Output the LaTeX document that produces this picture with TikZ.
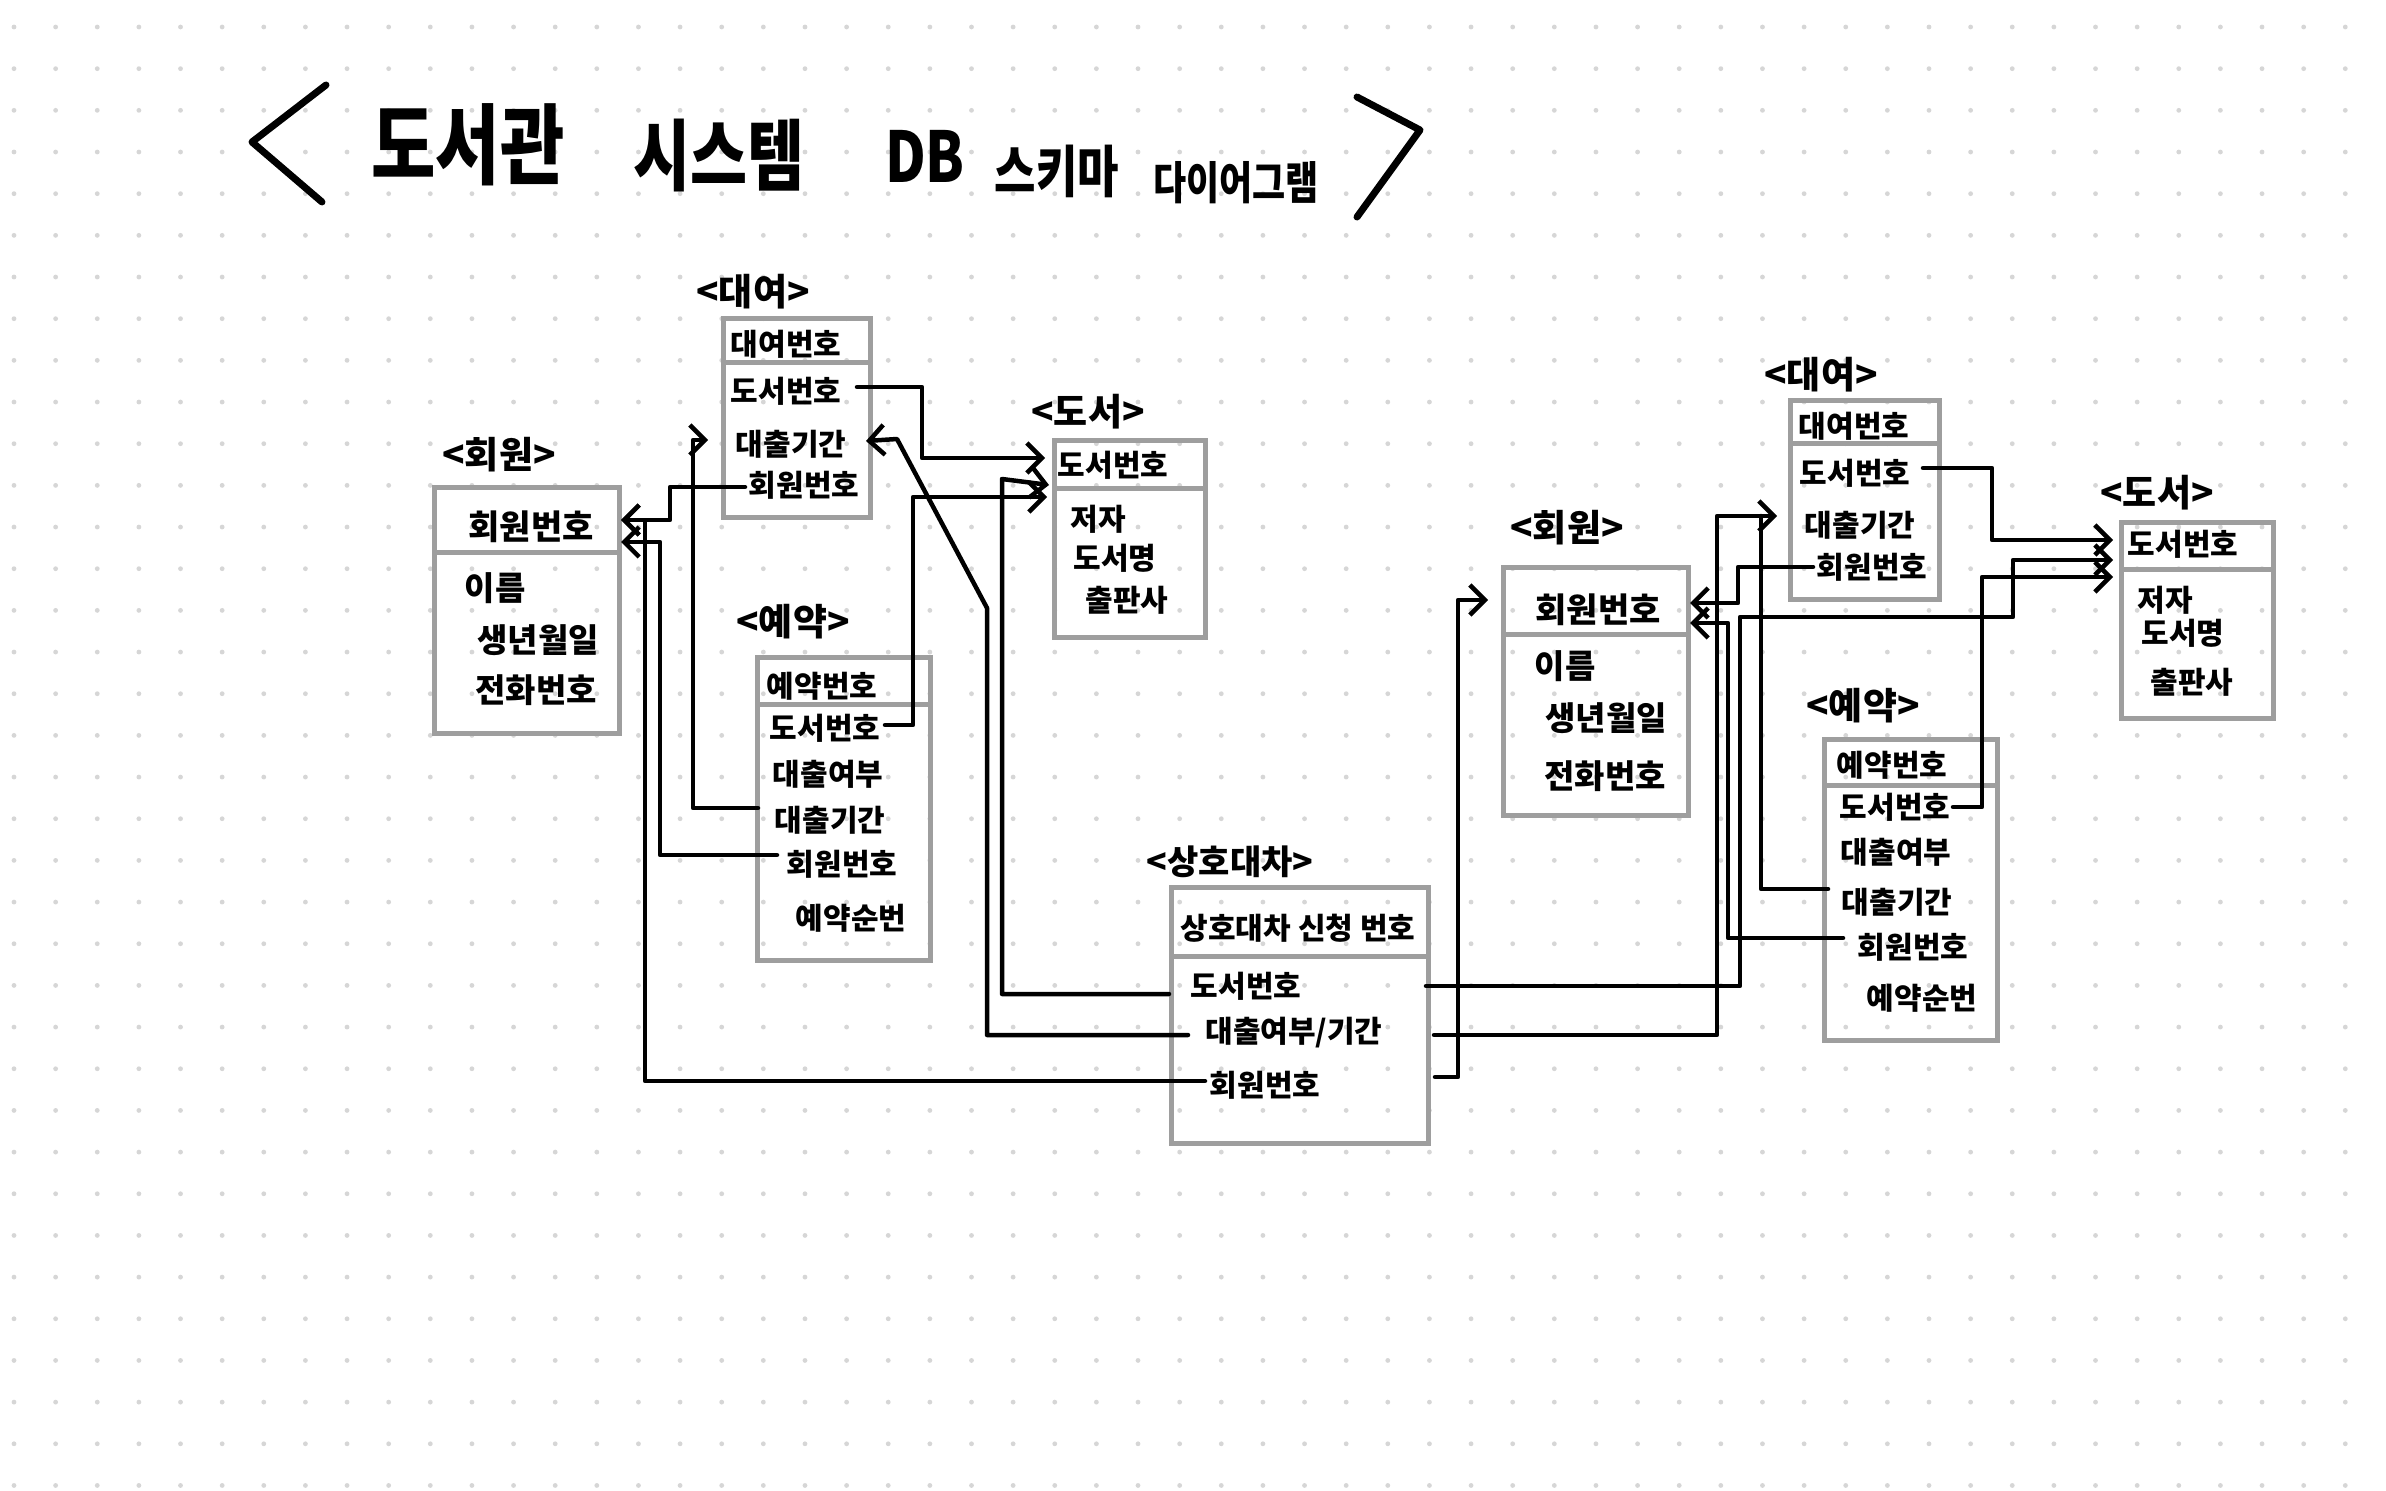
\documentclass[tikz,border=0pt]{standalone}
\usepackage{fontspec}
\setmainfont{Noto Sans CJK KR}
\usetikzlibrary{arrows.meta}
\definecolor{boxgray}{HTML}{9E9E9E}
\definecolor{dotgray}{HTML}{D6D6D6}
\tikzset{
  tbl/.style={draw=boxgray, line width=5pt, rectangle, inner sep=0pt, anchor=north west},
  sepline/.style={draw=boxgray, line width=5pt},
  fld/.style={font=\fontsize{30}{32}\selectfont\bfseries, inner sep=0pt},
  fldL/.style={font=\fontsize{33}{36}\selectfont\bfseries, inner sep=0pt},
  ttl/.style={font=\fontsize{37}{40}\selectfont\bfseries, inner sep=0pt},
  bigt/.style={inner sep=0pt, yscale=1.25, transform shape},
  conn/.style={draw=black, line width=4.5pt, line join=round, line cap=round},
  arr/.style={conn, -{Straight Barb[length=15pt,width=30pt]}},
  hand/.style={draw=black, line width=7pt, line cap=round, line join=round},
}
\begin{document}
\begin{tikzpicture}[x=1pt,y=-1pt]
\fill[white] (0,0) rectangle (2386,1491);
\path[use as bounding box] (0,0) rectangle (2386,1491);
\foreach \i in {0,...,56}{\foreach \j in {0,...,35}{\fill[dotgray] ({14+41.63*\i},{27+41.67*\j}) circle (2.4pt);}}

% ---------- main title ----------
\draw[hand] (326,85) -- (252,142) -- (322,202);
\draw[hand] (1357,97) -- (1420,130) -- (1357,217);
\node[bigt, font=\fontsize{70}{80}\selectfont\bfseries] (t1) at (468,145) {도서관};
\node[bigt, font=\fontsize{62}{70}\selectfont\bfseries] (t2) at (719,156) {시스템};
\node[bigt, font=\fontsize{56}{66}\selectfont\bfseries] (t3) at (925,156) {DB};
\node[bigt, font=\fontsize{45}{50}\selectfont\bfseries] (t4) at (1057,171) {스키마};
\node[bigt, font=\fontsize{36}{40}\selectfont\bfseries] (t5) at (1236,183) {다이어그램};

% ---------- tables ----------
\node[tbl, minimum width=185pt, minimum height=246pt] (Lmem) at (432,485) {};
\node[tbl, minimum width=147pt, minimum height=199pt] (Lrent) at (721,316) {};
\node[tbl, minimum width=151pt, minimum height=197pt] (Lbook) at (1052,438) {};
\node[tbl, minimum width=173pt, minimum height=303pt] (Lres) at (755,655) {};
\node[tbl, minimum width=257pt, minimum height=256pt] (Xl) at (1169,885) {};
\node[tbl, minimum width=185pt, minimum height=248pt] (Rmem) at (1501,565) {};
\node[tbl, minimum width=149pt, minimum height=199pt] (Rrent) at (1788,398) {};
\node[tbl, minimum width=152pt, minimum height=196pt] (Rbook) at (2119,520) {};
\node[tbl, minimum width=173pt, minimum height=301pt] (Rres) at (1822,737) {};

\draw[sepline] (Lmem.west |- 0,552) -- (Lmem.east |- 0,552);
\draw[sepline] (Lrent.west |- 0,362) -- (Lrent.east |- 0,362);
\draw[sepline] (Lbook.west |- 0,488) -- (Lbook.east |- 0,488);
\draw[sepline] (Lres.west |- 0,704) -- (Lres.east |- 0,704);
\draw[sepline] (Xl.west |- 0,956) -- (Xl.east |- 0,956);
\draw[sepline] (Rmem.west |- 0,634) -- (Rmem.east |- 0,634);
\draw[sepline] (Rrent.west |- 0,443) -- (Rrent.east |- 0,443);
\draw[sepline] (Rbook.west |- 0,569) -- (Rbook.east |- 0,569);
\draw[sepline] (Rres.west |- 0,785) -- (Rres.east |- 0,785);

% ---------- left 회원 ----------
\node[ttl] (Lmem-t) at (499,455) {<회원>};
\node[fldL, font=\fontsize{34}{36}\selectfont\bfseries] (Lmem-id) at (531,527) {회원번호};
\node[fldL] (Lmem-a1) at (495,588) {이름};
\node[fldL] (Lmem-a2) at (538,640) {생년월일};
\node[fldL] (Lmem-a3) at (536,690) {전화번호};
% ---------- left 대여 ----------
\node[ttl] (Lrent-t) at (753,292) {<대여>};
\node[fld] (Lrent-id) at (786,344) {대여번호};
\node[fld] (Lrent-b) at (786,391) {도서번호};
\node[fld] (Lrent-p) at (791,444) {대출기간};
\node[fld] (Lrent-m) at (804,485) {회원번호};
% ---------- left 도서 ----------
\node[ttl] (Lbook-t) at (1088,412) {<도서>};
\node[fld] (Lbook-id) at (1113,465) {도서번호};
\node[fld] (Lbook-a1) at (1098,519) {저자};
\node[fld] (Lbook-a2) at (1115,558) {도서명};
\node[fld] (Lbook-a3) at (1127,600) {출판사};
% ---------- left 예약 ----------
\node[ttl] (Lres-t) at (793,622) {<예약>};
\node[fld] (Lres-id) at (822,686) {예약번호};
\node[fld] (Lres-b) at (825,728) {도서번호};
\node[fld] (Lres-y) at (828,774) {대출여부};
\node[fld] (Lres-p) at (830,820) {대출기간};
\node[fld] (Lres-m) at (842,864) {회원번호};
\node[fld] (Lres-o) at (851,918) {예약순번};
% ---------- 상호대차 ----------
\node[ttl, font=\fontsize{34}{38}\selectfont\bfseries] (Xl-t) at (1230,862) {<상호대차>};
\node[fld] (Xl-id) at (1298,928) {상호대차 신청 번호};
\node[fld] (Xl-b) at (1246,986) {도서번호};
\node[fld] (Xl-p) at (1294,1033) {대출여부/기간};
\node[fld] (Xl-m) at (1265,1085) {회원번호};
% ---------- right 회원 ----------
\node[ttl] (Rmem-t) at (1567,528) {<회원>};
\node[fldL, font=\fontsize{34}{36}\selectfont\bfseries] (Rmem-id) at (1598,610) {회원번호};
\node[fldL] (Rmem-a1) at (1565,666) {이름};
\node[fldL] (Rmem-a2) at (1606,718) {생년월일};
\node[fldL] (Rmem-a3) at (1605,776) {전화번호};
% ---------- right 대여 ----------
\node[ttl] (Rrent-t) at (1821,375) {<대여>};
\node[fld] (Rrent-id) at (1854,426) {대여번호};
\node[fld] (Rrent-b) at (1855,473) {도서번호};
\node[fld] (Rrent-p) at (1860,525) {대출기간};
\node[fld] (Rrent-m) at (1872,567) {회원번호};
% ---------- right 도서 ----------
\node[ttl] (Rbook-t) at (2157,493) {<도서>};
\node[fld] (Rbook-id) at (2183,544) {도서번호};
\node[fld] (Rbook-a1) at (2165,600) {저자};
\node[fld] (Rbook-a2) at (2183,633) {도서명};
\node[fld] (Rbook-a3) at (2192,682) {출판사};
% ---------- right 예약 ----------
\node[ttl] (Rres-t) at (1863,706) {<예약>};
\node[fld] (Rres-id) at (1892,765) {예약번호};
\node[fld] (Rres-b) at (1895,807) {도서번호};
\node[fld] (Rres-y) at (1896,852) {대출여부};
\node[fld] (Rres-p) at (1897,902) {대출기간};
\node[fld] (Rres-m) at (1913,947) {회원번호};
\node[fld] (Rres-o) at (1922,998) {예약순번};

% ---------- connector end points ----------
\coordinate (s1) at (857,387);   \coordinate (t1e) at (1045,458);
\coordinate (s2) at (885,725);   \coordinate (t2e) at (1047,497);
\coordinate (s3) at (1169,994);  \coordinate (t3e) at (1049,485);
\coordinate (s4) at (1188,1035); \coordinate (t4e) at (866,441);
\coordinate (s5) at (745,487);   \coordinate (t5e) at (621,520);
\coordinate (s6) at (1205,1081);
\coordinate (s7) at (777,855);   \coordinate (t7e) at (621,542);
\coordinate (s8) at (758,808);   \coordinate (t8e) at (708,440);
\coordinate (s9) at (1426,986);  \coordinate (t9e) at (2113,560);
\coordinate (s10) at (1434,1035);\coordinate (t10e) at (1777,516);
\coordinate (s11) at (1828,889); \coordinate (j11) at (1761,516);
\coordinate (s12) at (1435,1077);\coordinate (t12e) at (1488,600);
\coordinate (s13) at (1813,567); \coordinate (t13e) at (1690,603);
\coordinate (s14) at (1843,938); \coordinate (t14e) at (1690,623);
\coordinate (s15) at (1923,468); \coordinate (t15e) at (2113,540);
\coordinate (s16) at (1953,807); \coordinate (t16e) at (2113,577);

% ---------- left connectors ----------
\draw[arr] (s1) -- (922,387) -- (922,458) -- (t1e);
\draw[arr] (s2) -- (913,725) -- (913,497) -- (t2e);
\draw[arr] (s3) -- (1002,994) -- (1002,479) -- (t3e);
\draw[arr] (s4) -- (987,1035) -- (987,608) -- (897,439) -- (t4e);
\draw[arr] (s5) -- (670,487) -- (670,520) -- (t5e);
\draw[arr] (s6) -- (645,1081) -- (645,520) -- (t5e);
\draw[arr] (s7) -- (660,855) -- (660,542) -- (t7e);
\draw[arr] (s8) -- (693,808) -- (693,440) -- (t8e);

% ---------- right connectors ----------
\draw[arr] (s9) -- (1740,986) -- (1740,617) -- (2013,617) -- (2013,560) -- (t9e);
\draw[arr] (s10) -- (1717,1035) -- (1717,516) -- (t10e);
\draw[conn] (s11) -- (1761,889) -- (j11);
\draw[arr] (s12) -- (1458,1077) -- (1458,600) -- (t12e);
\draw[arr] (s13) -- (1738,567) -- (1738,603) -- (t13e);
\draw[arr] (s14) -- (1728,938) -- (1728,623) -- (t14e);
\draw[arr] (s15) -- (1992,468) -- (1992,540) -- (t15e);
\draw[arr] (s16) -- (1982,807) -- (1982,577) -- (t16e);
\end{tikzpicture}
\end{document}
